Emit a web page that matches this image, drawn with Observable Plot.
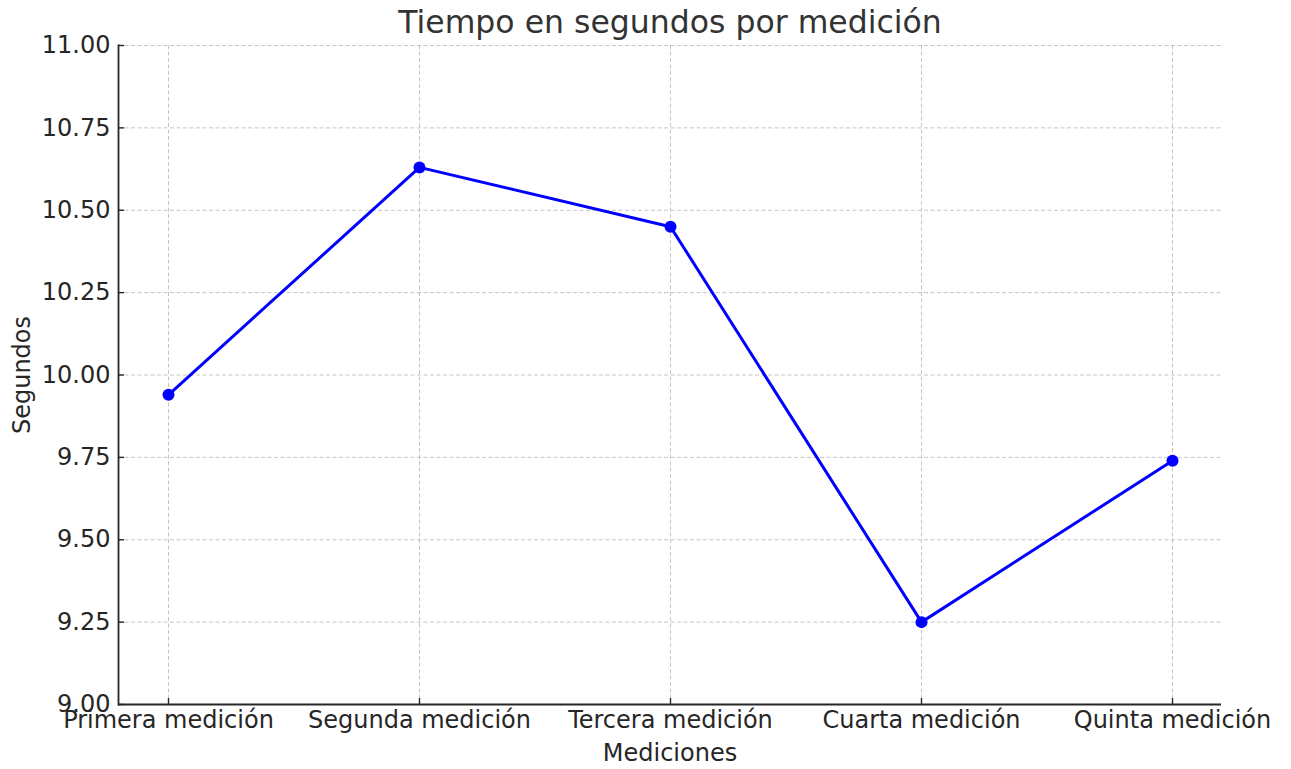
<!DOCTYPE html>
<html><head><meta charset="utf-8">
<script src="https://cdn.jsdelivr.net/npm/d3@7"></script>
<script src="https://cdn.jsdelivr.net/npm/@observablehq/plot@0.6"></script>
<style>body{margin:0;background:#fff}</style>
</head><body><div id="chart"></div>
<script>
const mediciones = ["Primera medición", "Segunda medición", "Tercera medición", "Cuarta medición", "Quinta medición"];
const segundos = [9.94, 10.63, 10.45, 9.25, 9.74];
const yTicks = [9.00, 9.25, 9.50, 9.75, 10.00, 10.25, 10.50, 10.75, 11.00];
const titulo = "Tiempo en segundos por medición";
const xLabel = "Mediciones";
const yLabel = "Segundos";

const data = mediciones.map((m, i) => ({medicion: m, segundos: segundos[i]}));
const gridStyle = {stroke: "#b0b0b0", strokeOpacity: 0.75, strokeDasharray: "4,2.5", strokeWidth: 1};

const chart = Plot.plot({
  width: 1291, height: 769,
  marginLeft: 118, marginRight: 70, marginTop: 45, marginBottom: 65,
  style: {fontFamily: "'DejaVu Sans', sans-serif", fontSize: "24px", color: "#262626", background: "#fff"},
  x: {type: "point", domain: mediciones, padding: 0.195},
  y: {domain: [9, 11]},
  marks: [
    Plot.gridX(mediciones, gridStyle),
    Plot.gridY(yTicks, gridStyle),
    Plot.axisX({ticks: mediciones, tickSize: -6, tickPadding: 12, label: null, fontSize: 24, stroke: "#262626", strokeWidth: 1.4}),
    Plot.axisY({ticks: yTicks, tickSize: -6, tickPadding: 14, tickFormat: d3.format(".2f"), label: null, fontSize: 24, stroke: "#262626", strokeWidth: 1.4}),
    Plot.frame({anchor: "left", stroke: "#262626", strokeWidth: 1.8}),
    Plot.ruleY([9], {stroke: "#262626", strokeWidth: 1.8}),
    Plot.line(data, {x: "medicion", y: "segundos", stroke: "#0000ff", strokeWidth: 3}),
    Plot.dot(data, {x: "medicion", y: "segundos", r: 6, fill: "#0000ff", stroke: "none"}),
    Plot.text([titulo], {text: d => d, frameAnchor: "top", dy: -23, lineAnchor: "middle", fontSize: 31.5, fill: "#333"}),
    Plot.text([xLabel], {text: d => d, frameAnchor: "bottom", dy: 49, lineAnchor: "middle", fontSize: 24, fill: "#262626"}),
    Plot.text([yLabel], {text: d => d, frameAnchor: "left", dx: -96, rotate: -90, textAnchor: "middle", lineAnchor: "middle", fontSize: 24, fill: "#262626"})
  ]
});
document.getElementById("chart").appendChild(chart);
</script>
</body></html>
